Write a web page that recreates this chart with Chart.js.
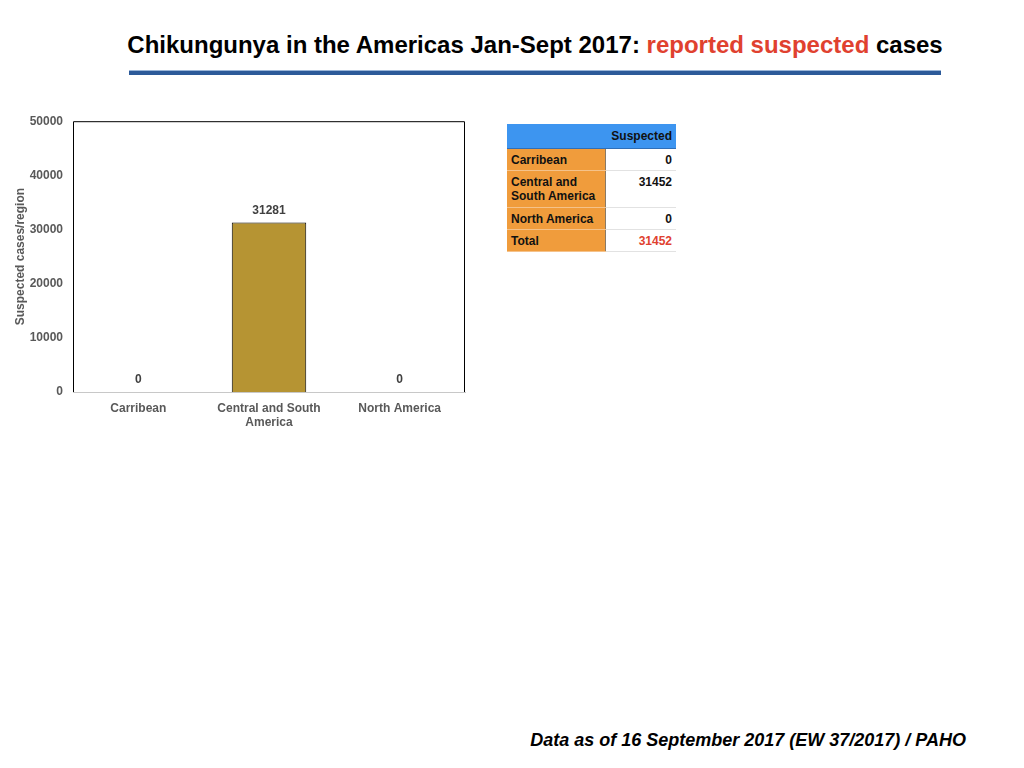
<!DOCTYPE html>
<html>
<head>
<meta charset="utf-8">
<script src="https://cdn.jsdelivr.net/npm/chart.js@4"></script>
<style>
  html, body { margin: 0; padding: 0; background: #fff; }
  body { width: 1024px; height: 768px; position: relative; overflow: hidden; font-family: "Liberation Sans", Arial, sans-serif; }
  .title { position: absolute; left: 0; width: 1070px; top: 31px; text-align: center; font-size: 24px; font-weight: bold; color: #000; white-space: nowrap; }
  .title .hl { color: #E0412F; }
  .rule { position: absolute; left: 129px; width: 812px; top: 70px; height: 4px; background: #2C5A99; border-top: 1px solid #9BB6D8; }
  .chart-box { position: absolute; left: 0; top: 104px; width: 480px; height: 338px; }
  table.summary { position: absolute; left: 507px; top: 124px; border-collapse: collapse; font-size: 12px; font-weight: bold; color: #111; }
  table.summary td { padding: 0 4px; vertical-align: top; }
  table.summary tr.head td { background: #3D95F0; height: 24px; vertical-align: middle; text-align: right; border-bottom: 1px solid #2F6FB8; }
  table.summary td.name { background: #F09C3C; width: 90px; border-right: 1px solid #8A7A66; border-bottom: 1px solid #F5C28A; padding-top: 4px; line-height: 14px; }
  table.summary td.val { background: #fff; width: 62px; text-align: right; border-bottom: 1px solid #E2E2E2; padding-top: 4px; line-height: 14px; }
  table.summary td.total { color: #E0412F; }
  .footer { position: absolute; right: 58px; top: 730px; font-size: 18px; font-weight: bold; font-style: italic; color: #000; white-space: nowrap; }
</style>
</head>
<body>
<div class="title">Chikungunya in the Americas Jan-Sept 2017: <span class="hl">reported suspected</span> cases</div>
<div class="rule"></div>
<div class="chart-box"><canvas id="casesChart"></canvas></div>
<table class="summary" id="summaryTable"></table>
<div class="footer">Data as of 16 September 2017 (EW 37/2017) / PAHO</div>

<script>
// chart data
const regions = ['Carribean', ['Central and South', 'America'], 'North America'];
const suspectedCases = [0, 31281, 0];
const yMax = 50000;
const yStep = 10000;
const yAxisTitle = 'Suspected cases/region';

// table data
const tableHeader = 'Suspected';
const tableRegions = ['Carribean', 'Central and South America', 'North America'];
const tableSuspected = [0, 31452, 0];
const tableTotalLabel = 'Total';
const tableTotal = 31452;

const GREY = '#595959';
const FONT = '"Liberation Sans", Arial, sans-serif';

function renderTable() {
  const t = document.getElementById('summaryTable');
  let html = `<tr class="head"><td></td><td>${tableHeader}</td></tr>`;
  const heights = [22, 37, 22];
  tableRegions.forEach((r, i) => {
    const name = i === 1 ? 'Central and<br>South America' : r;
    html += `<tr style="height:${heights[i]}px"><td class="name">${name}</td><td class="val">${tableSuspected[i]}</td></tr>`;
  });
  html += `<tr style="height:22px"><td class="name">${tableTotalLabel}</td><td class="val total">${tableTotal}</td></tr>`;
  t.innerHTML = html;
}

// value labels above each bar
const barLabels = {
  id: 'barLabels',
  afterDatasetsDraw(chart) {
    const ctx = chart.ctx;
    const meta = chart.getDatasetMeta(0);
    ctx.save();
    ctx.font = 'bold 12px ' + FONT;
    ctx.fillStyle = '#404040';
    ctx.textAlign = 'center';
    ctx.textBaseline = 'middle';
    meta.data.forEach((bar, i) => {
      ctx.fillText(String(suspectedCases[i]), bar.x, bar.y - 12);
    });
    ctx.restore();
  }
};

// black frame on left, top and right of the plot
const frame = {
  id: 'frame',
  afterDraw(chart) {
    const { ctx, chartArea: a } = chart;
    ctx.save();
    ctx.strokeStyle = '#000';
    ctx.lineWidth = 1;
    ctx.beginPath();
    ctx.moveTo(a.left + 0.5, a.bottom);
    ctx.lineTo(a.left + 0.5, a.top + 0.5);
    ctx.lineTo(a.right - 0.5, a.top + 0.5);
    ctx.lineTo(a.right - 0.5, a.bottom);
    ctx.stroke();
    ctx.restore();
  }
};

document.addEventListener('DOMContentLoaded', () => {
  renderTable();
  new Chart(document.getElementById('casesChart'), {
    type: 'bar',
    data: {
      labels: regions,
      datasets: [{
        label: 'Suspected',
        data: suspectedCases,
        backgroundColor: '#B69433',
        borderColor: '#000',
        borderWidth: 1,
        barPercentage: 0.57,
        categoryPercentage: 1
      }]
    },
    options: {
      responsive: true,
      maintainAspectRatio: false,
      animation: false,
      layout: { padding: { top: 4, right: 15, bottom: 0, left: 0 } },
      plugins: { legend: { display: false }, tooltip: { enabled: false } },
      scales: {
        x: {
          grid: { display: false, drawTicks: false },
          border: { color: '#C8C8C8', width: 1 },
          ticks: { color: GREY, font: { family: FONT, size: 12, weight: 'bold', lineHeight: 1.15 }, padding: 10, maxRotation: 0 },
          afterFit: s => { s.height = 50; }
        },
        y: {
          min: 0,
          max: yMax,
          grid: { display: false, drawTicks: false },
          border: { display: false },
          ticks: { stepSize: yStep, color: GREY, font: { family: FONT, size: 12, weight: 'bold' }, padding: 10, callback: v => String(v) },
          title: { display: true, text: yAxisTitle, color: GREY, font: { family: FONT, size: 12, weight: 'bold' }, padding: { top: 13, bottom: 0 } },
          afterFit: s => { s.width = 73; }
        }
      }
    },
    plugins: [barLabels, frame]
  });
});
</script>
</body>
</html>
